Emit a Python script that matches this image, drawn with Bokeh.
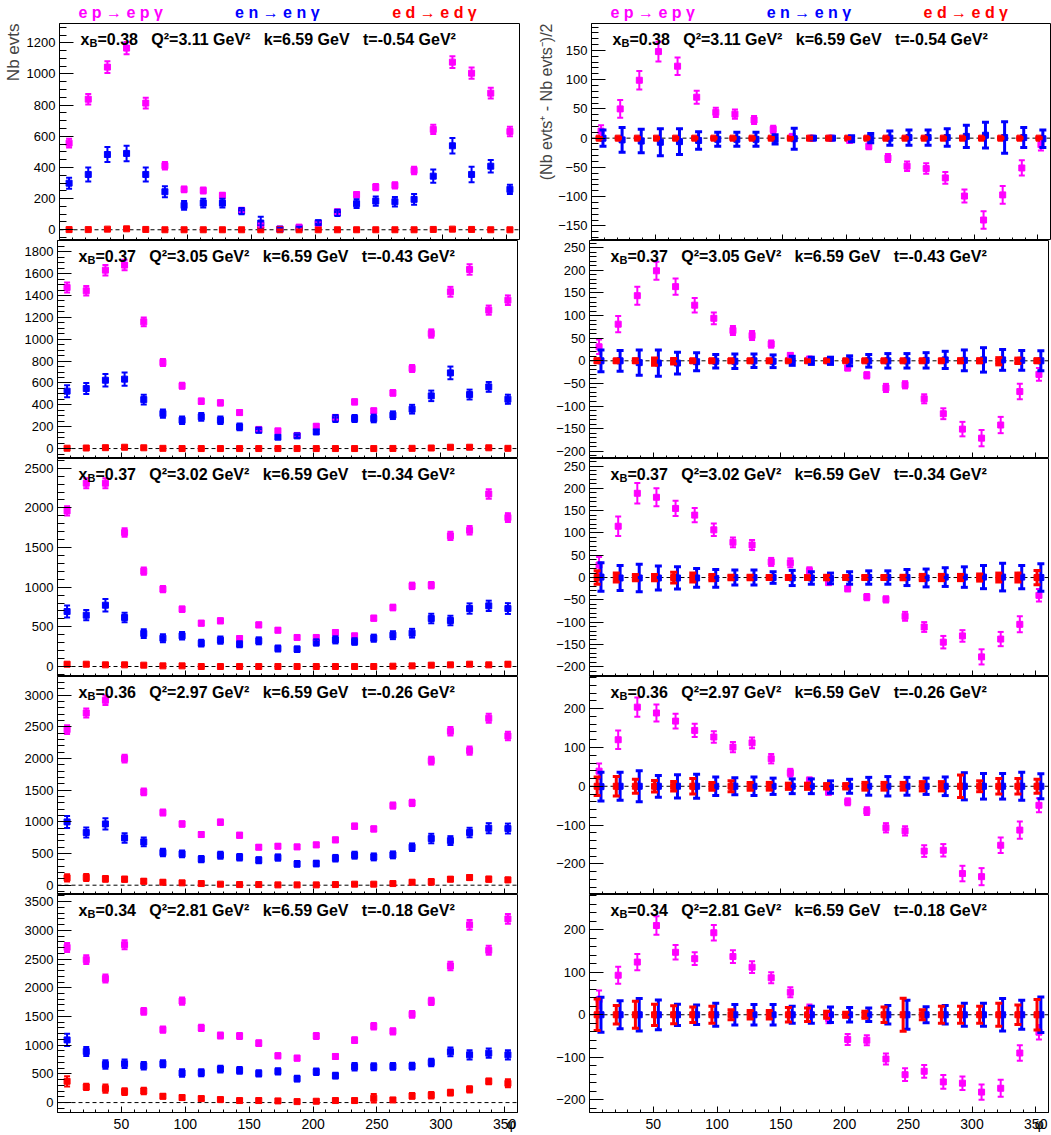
from bokeh.plotting import figure
from bokeh.models import (ColumnDataSource, Whisker, TeeHead, Span, Label,
                          SingleIntervalTicker, FixedTicker, Range1d,
                          CustomJSTickFormatter, CustomLabelingPolicy, Title)
from bokeh.layouts import column, row
from bokeh.embed import file_html
from bokeh.resources import INLINE

# ---------------- data ----------------
PHI = [7.5, 22.5, 37.5, 52.5, 67.5, 82.5, 97.5, 112.5, 127.5, 142.5, 157.5, 172.5,
       187.5, 202.5, 217.5, 232.5, 247.5, 262.5, 277.5, 292.5, 307.5, 322.5, 337.5, 352.5]
PHI_MAJOR = [50, 100, 150, 200, 250, 300, 350]
PHI_MINOR = [10, 20, 30, 40, 60, 70, 80, 90, 110, 120, 130, 140, 160, 170, 180, 190,
             210, 220, 230, 240, 260, 270, 280, 290, 310, 320, 330, 340]
PHI_END = 360

XB = ["0.38", "0.37", "0.37", "0.36", "0.34"]
Q2 = ["3.11", "3.05", "3.02", "2.97", "2.81"]
KBEAM = "6.59"
TT = ["-0.54", "-0.43", "-0.34", "-0.26", "-0.18"]

# left column: number of events
N1_EP = [556, 838, 1044, 1166, 813, 411, 259, 252, 220, 125, 30, 5, 17, 40, 115, 225, 274, 285, 381, 644, 1076, 1005, 877, 631]
N1_EP_ERR = [28, 34, 38, 40, 34, 24, 19, 19, 18, 13, 10, 6, 8, 12, 14, 18, 20, 20, 24, 30, 38, 36, 34, 30]
N1_EN = [299, 355, 483, 490, 355, 244, 156, 171, 171, 120, 43, 4, 9, 45, 109, 167, 184, 180, 195, 344, 539, 355, 408, 259]
N1_EN_ERR = [35, 45, 48, 50, 45, 35, 28, 28, 28, 20, 40, 8, 10, 15, 20, 28, 30, 30, 35, 42, 50, 50, 40, 30]
N1_ED = [1, 1, 4, 6, 2, 0, 0, 0, 0, 0, 0, 0, 0, 0, 0, 0, 0, 0, 0, 2, 4, 2, 0, 0]
N1_ED_ERR = [3, 3, 4, 5, 3, 2, 2, 2, 2, 2, 2, 2, 2, 2, 2, 2, 2, 2, 2, 3, 4, 3, 2, 2]

N2_EP = [1473, 1443, 1632, 1678, 1159, 787, 574, 433, 418, 329, 175, 162, 120, 204, 285, 427, 345, 509, 732, 1052, 1434, 1638, 1266, 1357]
N2_EP_ERR = [45, 44, 48, 48, 40, 33, 28, 25, 24, 21, 16, 15, 13, 17, 20, 24, 22, 26, 32, 38, 45, 48, 42, 44]
N2_EN = [525, 549, 625, 635, 448, 320, 259, 290, 259, 198, 168, 104, 116, 153, 275, 275, 275, 305, 360, 482, 692, 494, 564, 451]
N2_EN_ERR = [55, 50, 58, 60, 45, 38, 35, 35, 35, 30, 22, 15, 15, 22, 32, 32, 35, 35, 40, 48, 58, 45, 45, 42]
N2_ED = [3, 5, 8, 12, 7, 2, 0, 0, 0, 0, 0, 0, 0, 0, 0, 0, 0, 1, 2, 5, 12, 12, 7, 2]
N2_ED_ERR = [6, 7, 9, 10, 8, 5, 3, 3, 3, 3, 3, 3, 3, 3, 3, 3, 3, 4, 5, 7, 10, 10, 8, 5]

N3_EP = [1962, 2311, 2311, 1689, 1202, 975, 723, 546, 576, 353, 525, 458, 366, 366, 429, 387, 609, 744, 1017, 1025, 1647, 1718, 2176, 1878]
N3_EP_ERR = [58, 62, 62, 54, 46, 40, 35, 30, 31, 25, 30, 28, 25, 25, 27, 26, 32, 36, 41, 41, 52, 54, 60, 56]
N3_EN = [693, 647, 773, 618, 416, 357, 387, 294, 332, 282, 324, 227, 218, 303, 336, 315, 357, 395, 420, 605, 580, 731, 765, 731]
N3_EN_ERR = [75, 65, 78, 60, 55, 50, 48, 42, 45, 38, 44, 38, 35, 40, 45, 42, 45, 50, 55, 60, 60, 65, 65, 68]
N3_ED = [29, 29, 21, 21, 17, 8, 8, 0, 0, 0, 0, 0, 0, 0, 0, 0, 0, 4, 8, 17, 21, 29, 21, 29]
N3_ED_ERR = [22, 15, 12, 12, 15, 8, 8, 6, 5, 5, 4, 4, 4, 4, 5, 5, 6, 8, 8, 12, 12, 15, 12, 25]

N4_EP = [2458, 2721, 2921, 2000, 1474, 1147, 968, 800, 995, 789, 600, 616, 605, 637, 716, 932, 889, 1258, 1300, 1968, 2432, 2126, 2637, 2358]
N4_EP_ERR = [68, 72, 75, 62, 53, 47, 43, 40, 44, 39, 34, 34, 34, 35, 37, 42, 41, 49, 50, 62, 68, 64, 71, 67]
N4_EN = [1000, 832, 968, 747, 684, 516, 495, 411, 474, 442, 395, 437, 337, 342, 426, 474, 447, 479, 600, 737, 705, 832, 900, 895]
N4_EN_ERR = [95, 80, 90, 75, 70, 60, 55, 50, 55, 50, 48, 50, 45, 45, 52, 55, 55, 55, 60, 75, 70, 75, 80, 78]
N4_ED = [116, 121, 100, 95, 63, 47, 37, 26, 16, 10, 10, 5, 5, 5, 10, 16, 16, 26, 47, 53, 95, 121, 95, 84]
N4_ED_ERR = [58, 55, 45, 40, 35, 30, 25, 22, 18, 15, 15, 12, 12, 12, 15, 18, 18, 22, 30, 45, 35, 40, 40, 35]

N5_EP = [2703, 2490, 2160, 2750, 1589, 1271, 1768, 1300, 1167, 1161, 1034, 815, 774, 1161, 803, 1086, 1329, 1242, 1537, 1762, 2380, 3096, 2652, 3200]
N5_EP_ERR = [78, 75, 70, 80, 60, 54, 64, 55, 52, 52, 50, 44, 43, 52, 44, 50, 56, 54, 60, 64, 74, 84, 78, 85]
N5_EN = [1092, 890, 664, 676, 641, 676, 514, 520, 583, 560, 508, 543, 416, 537, 468, 624, 624, 630, 635, 699, 884, 832, 861, 832]
N5_EN_ERR = [105, 80, 75, 75, 65, 60, 65, 60, 60, 60, 55, 55, 50, 55, 50, 65, 60, 60, 60, 65, 75, 80, 80, 80]
N5_ED = [370, 272, 243, 191, 202, 110, 87, 69, 52, 35, 35, 29, 17, 23, 35, 35, 75, 46, 116, 127, 173, 231, 370, 335]
N5_ED_ERR = [90, 55, 70, 60, 55, 40, 40, 35, 30, 28, 35, 28, 25, 25, 30, 30, 75, 28, 50, 55, 50, 55, 50, 70]

# right column: (N+ - N-)/2
D1_EP = [12, 50, 99, 148, 123, 70, 44, 41, 31, 15, 3, 0, 0, -4, -14, -34, -48, -52, -68, -99, -140, -97, -51, -11]
D1_EP_ERR = [10, 15, 16, 17, 15, 11, 8, 8, 7, 6, 3, 1, 1, 2, 5, 7, 8, 9, 10, 11, 15, 15, 13, 10]
D1_EN = [0, -3, -5, -7, -6, -4, -2, -2, -2, -2, -1, 0, 0, -1, 0, 0, 1, 1, 1, 3, 5, 1, 1, -1]
D1_EN_ERR = [14, 21, 20, 23, 22, 15, 12, 12, 12, 8, 18, 2, 1, 5, 8, 12, 13, 13, 15, 19, 22, 27, 17, 15]
D1_ED = [0, 0, 0, 0, 0, 0, 0, 0, 0, 0, 0, 0, 0, 0, 0, 0, 0, 0, 0, 0, 0, 0, 0, 0]
D1_ED_ERR = [1, 1, 1, 1, 1, 1, 1, 1, 1, 1, 1, 1, 1, 1, 1, 1, 1, 1, 1, 1, 1, 1, 1, 1]

D2_EP = [31, 81, 144, 199, 164, 123, 94, 67, 56, 37, 12, 4, 0, -16, -32, -60, -53, -84, -117, -151, -171, -142, -68, -30]
D2_EP_ERR = [16, 18, 20, 20, 18, 16, 13, 10, 10, 8, 5, 3, 2, 5, 7, 9, 8, 10, 12, 16, 18, 18, 17, 14]
D2_EN = [0, 0, -4, -5, -5, -2, -1, -1, 0, -1, 0, 0, 0, 0, 0, 0, 0, 1, 2, 1, 2, 2, 1, 0]
D2_EN_ERR = [24, 23, 28, 29, 24, 20, 15, 16, 15, 14, 10, 8, 8, 11, 14, 16, 16, 17, 19, 23, 27, 23, 22, 22]
D2_ED = [0, 0, 0, -2, -1, 0, 0, 0, 0, 0, 0, 0, 0, 0, 0, 0, 0, 0, 0, 0, 0, -1, 0, 0]
D2_ED_ERR = [4, 3, 4, 8, 6, 3, 3, 3, 3, 3, 2, 2, 2, 2, 2, 2, 2, 3, 3, 4, 4, 8, 6, 4]

D3_EP = [28, 115, 189, 180, 155, 140, 107, 79, 73, 35, 33, 15, -11, -25, -44, -49, -87, -111, -145, -131, -178, -138, -105, -40]
D3_EP_ERR = [18, 22, 23, 20, 17, 16, 14, 11, 11, 9, 10, 8, 6, 6, 7, 7, 10, 11, 14, 13, 17, 16, 18, 14]
D3_EN = [1, -1, -1, -1, -1, -1, -2, 0, 0, 0, -1, -1, -2, -1, 0, 0, 0, -1, 1, 1, 1, 1, 1, 0]
D3_EN_ERR = [32, 28, 31, 27, 25, 21, 20, 17, 17, 13, 17, 14, 12, 14, 15, 15, 18, 20, 21, 23, 26, 31, 26, 31]
D3_ED = [0, 0, 0, 0, 0, 0, 0, 0, 0, 0, 0, 0, 0, 0, 0, 0, 0, 0, 0, 0, 0, 0, 0, 0]
D3_ED_ERR = [15, 10, 7, 7, 12, 10, 7, 5, 5, 4, 4, 4, 5, 4, 4, 4, 5, 7, 7, 7, 8, 10, 10, 16]

D4_EP = [39, 120, 204, 189, 168, 144, 127, 101, 112, 71, 35, 15, -15, -40, -64, -107, -115, -167, -165, -225, -233, -152, -113, -49]
D4_EP_ERR = [20, 24, 25, 22, 19, 17, 15, 13, 14, 12, 10, 8, 7, 9, 10, 12, 12, 15, 16, 20, 22, 20, 22, 18]
D4_EN = [-1, 0, 0, 0, 0, 0, 0, 0, 0, 0, 0, 0, -2, 0, 0, 0, 0, 0, 0, 0, 0, 0, 0, 0]
D4_EN_ERR = [37, 36, 40, 28, 30, 31, 24, 22, 24, 21, 19, 19, 16, 18, 23, 25, 23, 21, 24, 35, 33, 33, 36, 32]
D4_ED = [0, 0, 0, 0, 0, 0, 0, 0, 0, 0, 0, 0, 0, 0, 0, 0, 0, 0, 0, 0, 0, 0, 0, 0]
D4_ED_ERR = [24, 25, 18, 15, 12, 20, 10, 14, 10, 10, 8, 8, 7, 7, 10, 10, 10, 12, 12, 29, 14, 20, 20, 18]

D5_EP = [36, 93, 124, 210, 147, 132, 193, 137, 112, 87, 53, 14, -9, -58, -60, -104, -141, -133, -158, -161, -182, -173, -90, -41]
D5_EP_ERR = [21, 20, 19, 22, 17, 15, 18, 15, 14, 13, 12, 10, 11, 13, 12, 13, 15, 15, 16, 16, 18, 20, 18, 17]
D5_EN = [0, 0, 0, 0, 0, 0, 0, 0, 0, 0, 0, 0, 0, 0, 0, 0, 0, 0, 0, 0, 0, 0, 0, 0]
D5_EN_ERR = [41, 33, 38, 35, 25, 23, 27, 24, 24, 24, 20, 20, 18, 17, 16, 22, 34, 19, 22, 27, 27, 38, 34, 42]
D5_ED = [0, 0, 0, 0, 0, 0, 0, 0, 0, 0, 0, 0, 0, 0, 0, 0, 0, 0, 0, 0, 0, 0, 0, 0]
D5_ED_ERR = [37, 22, 32, 25, 21, 18, 20, 12, 10, 10, 17, 16, 8, 6, 8, 18, 39, 12, 20, 20, 20, 27, 23, 36]

LEFT_DATA = [
    (N1_EP, N1_EP_ERR, N1_EN, N1_EN_ERR, N1_ED, N1_ED_ERR),
    (N2_EP, N2_EP_ERR, N2_EN, N2_EN_ERR, N2_ED, N2_ED_ERR),
    (N3_EP, N3_EP_ERR, N3_EN, N3_EN_ERR, N3_ED, N3_ED_ERR),
    (N4_EP, N4_EP_ERR, N4_EN, N4_EN_ERR, N4_ED, N4_ED_ERR),
    (N5_EP, N5_EP_ERR, N5_EN, N5_EN_ERR, N5_ED, N5_ED_ERR),
]
RIGHT_DATA = [
    (D1_EP, D1_EP_ERR, D1_EN, D1_EN_ERR, D1_ED, D1_ED_ERR),
    (D2_EP, D2_EP_ERR, D2_EN, D2_EN_ERR, D2_ED, D2_ED_ERR),
    (D3_EP, D3_EP_ERR, D3_EN, D3_EN_ERR, D3_ED, D3_ED_ERR),
    (D4_EP, D4_EP_ERR, D4_EN, D4_EN_ERR, D4_ED, D4_ED_ERR),
    (D5_EP, D5_EP_ERR, D5_EN, D5_EN_ERR, D5_ED, D5_ED_ERR),
]

LEFT_YR = [(-69, 1324), (-91, 1903), (-126, 2623), (-147, 3297), (-173, 3625)]
RIGHT_YR = [(-175, 196), (-216, 266), (-222, 267), (-279, 283), (-230, 283)]
LEFT_YTICK = [(200, 4), (200, 4), (500, 5), (500, 5), (500, 5)]
RIGHT_YTICK = [(50, 5), (50, 5), (50, 5), (100, 5), (100, 5)]

HEADERS = [("e p \u2192 e p \u03b3", "#ff00ff", 16.4),
           ("e n \u2192 e n \u03b3", "#0000ff", 139.0),
           ("e d \u2192 e d \u03b3", "#ff0000", 262.0)]

# ---------------- style ----------------
MAG = "#ff00ff"
BLU = "#0000ff"
RED = "#ff0000"
FONT = "Liberation Sans"
FRAME_H = [217, 218, 218, 218, 218]
GEOM = {"L": (460, 57, 6), "R": (459, 66, 3)}   # frame width, border left, border right
SP3 = "\u00a0\u00a0\u00a0"

MINUS_FMT = "return tick < 0 ? '\\u2212' + Math.abs(tick) : String(tick);"
PHI_FMT = "return tick >= 359.5 ? '\\u03c6\\u00a0\\u00a0' : String(tick);"


def add_series(p, xs, vals, errs, color, lw, cap, msize):
    src = ColumnDataSource(dict(
        x=xs, y=vals,
        up=[v + e for v, e in zip(vals, errs)],
        lo=[v - e for v, e in zip(vals, errs)]))
    w = Whisker(base="x", upper="up", lower="lo", source=src, dimension="height",
                line_color=color, line_width=lw,
                upper_head=TeeHead(size=cap, line_color=color, line_width=lw),
                lower_head=TeeHead(size=cap, line_color=color, line_width=lw))
    w.level = "glyph"
    p.add_layout(w)
    p.scatter("x", "y", source=src, marker="square", size=msize,
              fill_color=color, line_color=color)


def make_header(side):
    fw, bl, br = GEOM[side]
    h = figure(frame_width=fw, frame_height=23, x_range=Range1d(0, PHI_END),
               y_range=Range1d(0, 23), x_axis_type=None, y_axis_type=None,
               output_backend="svg", toolbar_location=None,
               min_border_left=bl, min_border_right=br,
               min_border_top=0, min_border_bottom=0)
    h.outline_line_color = None
    h.background_fill_color = "white"
    h.border_fill_color = "white"
    for txt, col, xx in HEADERS:
        h.add_layout(Label(x=xx, y=11, text=txt, text_font=FONT,
                           text_font_size="16px", text_font_style="bold",
                           text_baseline="alphabetic", text_color=col))
    return h


def make_fig(side, r):
    top = r == 0
    bottom = r == 4
    fw, bl, br = GEOM[side]
    if side == "L":
        yr = LEFT_YR[r]
        yint, nminor = LEFT_YTICK[r]
    else:
        yr = RIGHT_YR[r]
        yint, nminor = RIGHT_YTICK[r]
    p = figure(frame_width=fw, frame_height=FRAME_H[r],
               x_range=Range1d(0, PHI_END), y_range=Range1d(yr[0], yr[1]),
               output_backend="svg", toolbar_location=None,
               min_border_left=bl, min_border_right=br,
               min_border_top=0, min_border_bottom=23 if bottom else 0)
    p.background_fill_color = "white"
    p.border_fill_color = "white"
    p.xgrid.visible = False
    p.ygrid.visible = False
    p.outline_line_color = "black"
    p.outline_line_width = 1
    p.outline_line_alpha = 1

    xa = p.xaxis[0]
    xa.major_tick_in = 6
    xa.major_tick_out = 0
    xa.minor_tick_in = 3
    xa.minor_tick_out = 0
    xa.axis_line_color = "black"
    xa.major_tick_line_color = "black"
    xa.minor_tick_line_color = "black"
    if bottom:
        xa.ticker = FixedTicker(ticks=PHI_MAJOR + [PHI_END], minor_ticks=PHI_MINOR)
        xa.formatter = CustomJSTickFormatter(code=PHI_FMT)
        xa.major_label_text_font = FONT
        xa.major_label_text_font_size = "14px"
        xa.major_label_text_color = "black"
        xa.major_label_standoff = 3
    else:
        xa.ticker = FixedTicker(ticks=PHI_MAJOR, minor_ticks=PHI_MINOR)
        xa.major_label_text_font_size = "0px"
        xa.major_label_standoff = 0
        xa.major_label_policy = CustomLabelingPolicy(code="return []")

    ya = p.yaxis[0]
    ya.ticker = SingleIntervalTicker(interval=yint, num_minor_ticks=nminor)
    ya.major_tick_in = 14
    ya.major_tick_out = 0
    ya.minor_tick_in = 7
    ya.minor_tick_out = 0
    ya.axis_line_color = "black"
    ya.major_tick_line_color = "black"
    ya.minor_tick_line_color = "black"
    ya.major_label_text_font = FONT
    ya.major_label_text_font_size = "13px"
    ya.major_label_text_color = "black"
    ya.major_label_standoff = 4
    ya.formatter = CustomJSTickFormatter(code=MINUS_FMT)

    zero = Span(location=0, dimension="width", line_color="black",
                line_dash="4 3", line_width=1)
    zero.level = "underlay"
    p.add_layout(zero)

    if side == "L":
        ep, ep_e, en, en_e, ed, ed_e = LEFT_DATA[r]
        add_series(p, PHI, ep, ep_e, MAG, 2, 6, 6)
        add_series(p, PHI, en, en_e, BLU, 2, 6, 6)
        add_series(p, PHI, ed, ed_e, RED, 2, 6, 6)
        if top:
            p.add_layout(Title(text="Nb evts", align="right", text_font=FONT,
                               text_font_size="17px", text_font_style="normal",
                               standoff=2, offset=0), "left")
    else:
        ep, ep_e, en, en_e, ed, ed_e = RIGHT_DATA[r]
        add_series(p, PHI, ep, ep_e, MAG, 2, 6, 6)
        add_series(p, [x + 1.5 for x in PHI], en, en_e, BLU, 3, 7, 6)
        add_series(p, [x - 1.5 for x in PHI], ed, ed_e, RED, 3, 7, 6)
        if top:
            p.add_layout(Title(text="(Nb evts\u207a - Nb evts\u207b)/2", align="right",
                               text_font=FONT, text_font_size="16px",
                               text_font_style="normal", standoff=2, offset=0), "left")

    # kinematics label
    x0 = 16.4
    p.add_layout(Label(x=x0, y=yr[1], y_offset=-16, text="x", text_font=FONT,
                       text_font_size="16px", text_font_style="bold",
                       text_baseline="alphabetic", text_color="black"))
    p.add_layout(Label(x=x0, y=yr[1], x_offset=9, y_offset=-19, text="B", text_font=FONT,
                       text_font_size="11px", text_font_style="bold",
                       text_baseline="alphabetic", text_color="black"))
    txt = ("=" + XB[r] + SP3 + "Q\u00b2=" + Q2[r] + " GeV\u00b2" + SP3 +
           "k=" + KBEAM + " GeV" + SP3 + "t=" + TT[r] + " GeV\u00b2")
    p.add_layout(Label(x=x0, y=yr[1], x_offset=17, y_offset=-16, text=txt, text_font=FONT,
                       text_font_size="16px", text_font_style="bold",
                       text_baseline="alphabetic", text_color="black"))
    return p


rows = [row(make_header("L"), make_header("R"))]
for r in range(5):
    rows.append(row(make_fig("L", r), make_fig("R", r)))
layout = column(*rows)

open("out.html", "w").write(file_html(layout, INLINE))
